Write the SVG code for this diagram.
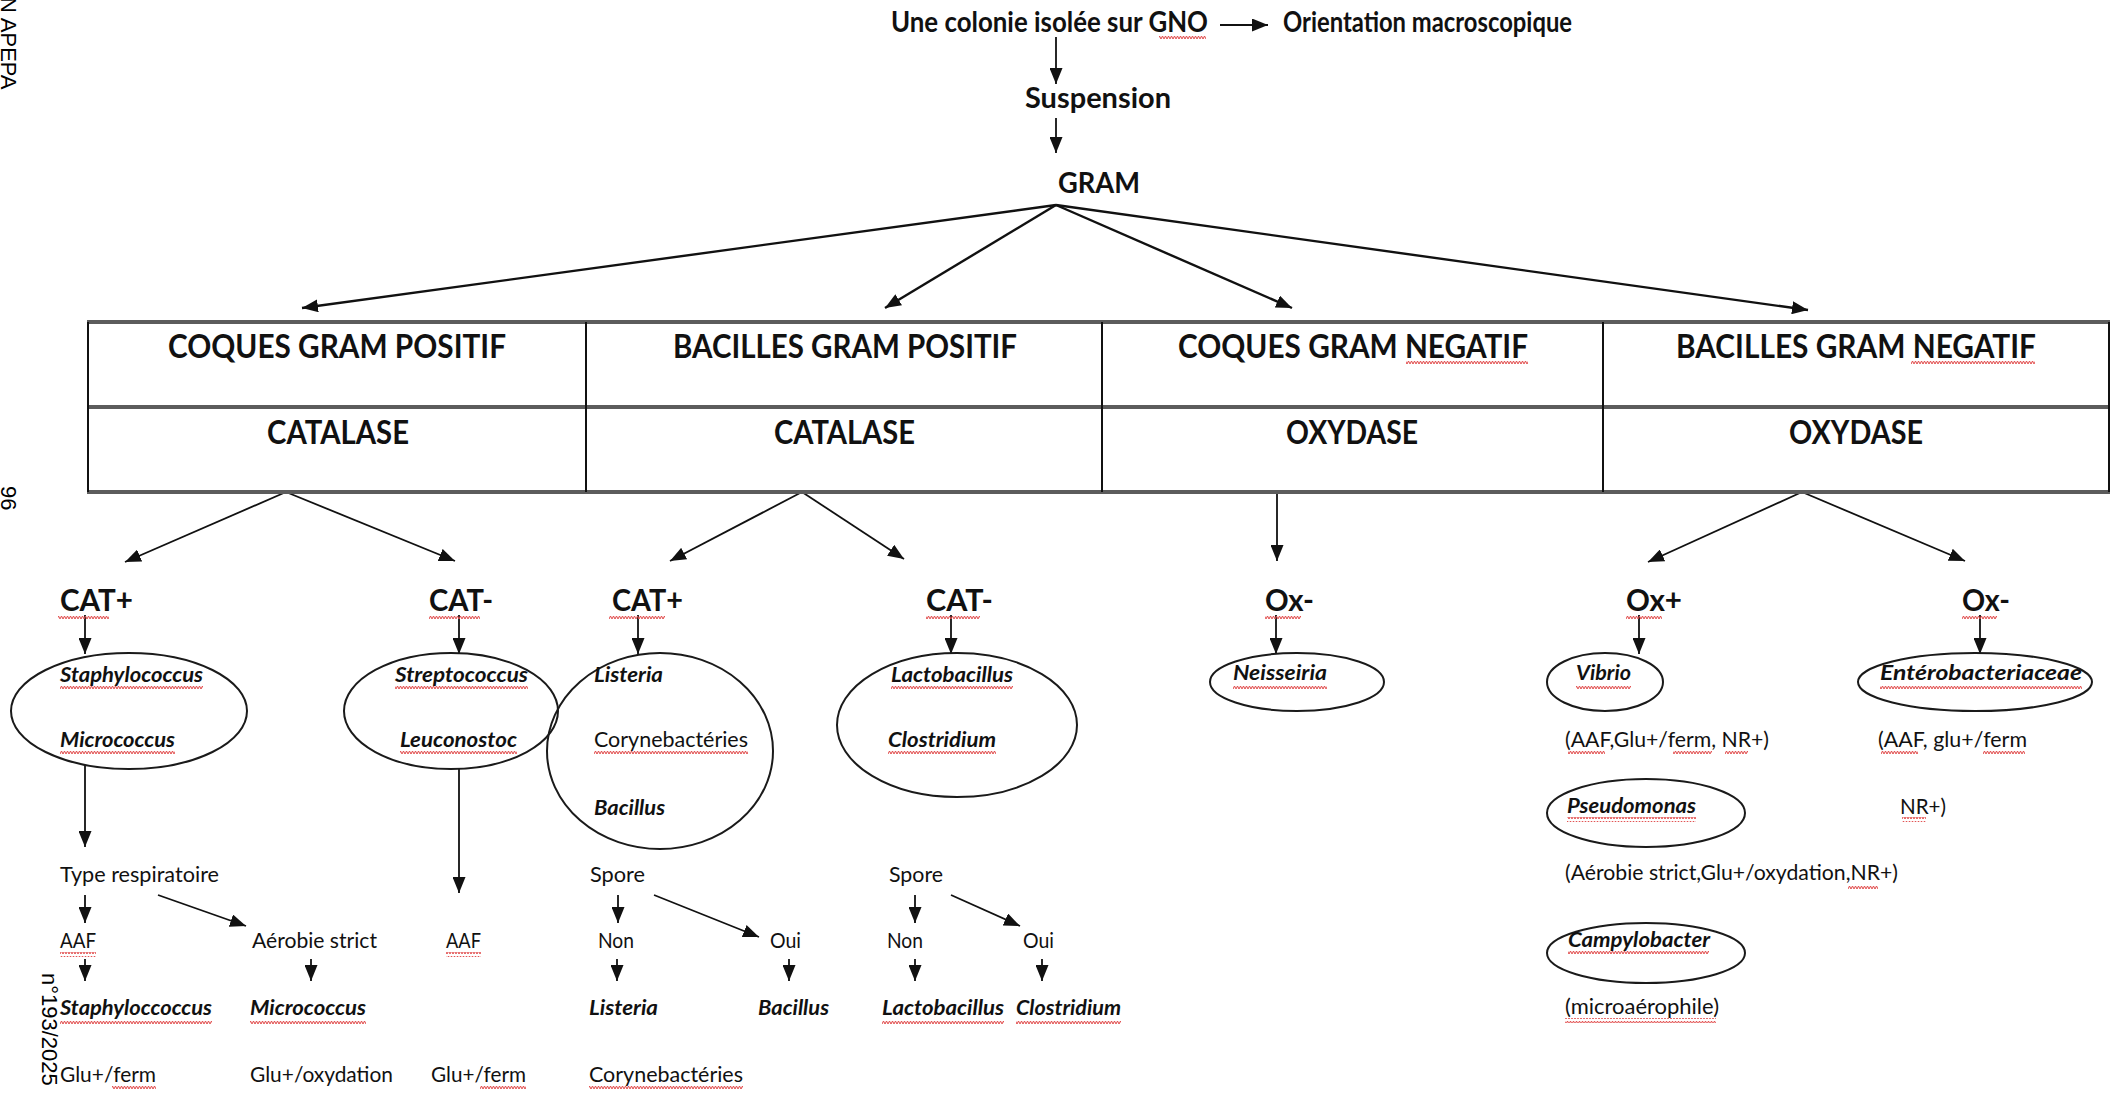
<svg xmlns="http://www.w3.org/2000/svg" width="2116" height="1093" viewBox="0 0 2116 1093">
<style>
  text{font-family:Lato,"Open Sans","Liberation Sans",sans-serif;fill:#111}
  .h1{font-size:28px;font-weight:700}
  .h2{font-size:33px;font-weight:700}
  .h3{font-size:30px;font-weight:700}
  .n{font-size:21px}
  .sp{font-size:21px;font-style:italic;font-weight:700}
  .mg{font-family:"Liberation Sans",Arial,sans-serif;font-size:22px;fill:#000}
  .c line{stroke:#111;stroke-width:1.8;fill:none}
  .c .g{stroke-width:2.4}
  .e{fill:none;stroke:#1a1a1a;stroke-width:2}
  .hl{stroke:#5c5c5c;stroke-width:4}
  .vl{stroke:#111;stroke-width:2}
  .w{fill:url(#wv)}
</style>
<defs>
  <marker id="ah" markerWidth="16" markerHeight="13" refX="16" refY="6.5" orient="auto" markerUnits="userSpaceOnUse">
    <path d="M0,0 L16,6.5 L0,13 z" fill="#111"/>
  </marker>
  <pattern id="wv" width="6" height="5" patternUnits="userSpaceOnUse">
    <path d="M0,4 L1.5,1 L3,4 L4.5,1 L6,4" fill="none" stroke="#e04848" stroke-width="1"/>
  </pattern>
</defs>
<rect width="2116" height="1093" fill="#fff"/>

<!-- page margin texts -->
<g id="margin">
  <text class="mg" transform="translate(1,-3) rotate(90)">N APEPA</text>
  <text class="mg" transform="translate(1,486) rotate(90)">96</text>
  <text class="mg" transform="translate(42,973) rotate(90)">n°193/2025</text>
</g>

<!-- connectors -->
<g id="connectors" class="c">
  <line x1="1056" y1="37" x2="1056" y2="84" marker-end="url(#ah)"/>
  <line x1="1220" y1="25" x2="1268" y2="25" marker-end="url(#ah)"/>
  <line x1="1056" y1="118" x2="1056" y2="153" marker-end="url(#ah)"/>
  <line class="g" x1="1056" y1="205" x2="302" y2="308" marker-end="url(#ah)"/>
  <line class="g" x1="1056" y1="205" x2="885" y2="308" marker-end="url(#ah)"/>
  <line class="g" x1="1056" y1="205" x2="1292" y2="308" marker-end="url(#ah)"/>
  <line class="g" x1="1056" y1="205" x2="1808" y2="310" marker-end="url(#ah)"/>
  <line x1="286" y1="492" x2="125" y2="562" marker-end="url(#ah)"/>
  <line x1="286" y1="492" x2="455" y2="561" marker-end="url(#ah)"/>
  <line x1="802" y1="492" x2="670" y2="561" marker-end="url(#ah)"/>
  <line x1="802" y1="492" x2="904" y2="559" marker-end="url(#ah)"/>
  <line x1="1277" y1="492" x2="1277" y2="561" marker-end="url(#ah)"/>
  <line x1="1802" y1="492" x2="1648" y2="562" marker-end="url(#ah)"/>
  <line x1="1802" y1="492" x2="1965" y2="561" marker-end="url(#ah)"/>
  <line x1="85" y1="615" x2="85" y2="654" marker-end="url(#ah)"/>
  <line x1="459" y1="615" x2="459" y2="654" marker-end="url(#ah)"/>
  <line x1="638" y1="615" x2="638" y2="654" marker-end="url(#ah)"/>
  <line x1="951" y1="615" x2="951" y2="654" marker-end="url(#ah)"/>
  <line x1="1276" y1="615" x2="1276" y2="654" marker-end="url(#ah)"/>
  <line x1="1639" y1="615" x2="1639" y2="654" marker-end="url(#ah)"/>
  <line x1="1980" y1="615" x2="1980" y2="654" marker-end="url(#ah)"/>
  <line x1="85" y1="765" x2="85" y2="847" marker-end="url(#ah)"/>
  <line x1="459" y1="769" x2="459" y2="893" marker-end="url(#ah)"/>
  <line x1="85" y1="895" x2="85" y2="923" marker-end="url(#ah)"/>
  <line x1="158" y1="895" x2="246" y2="926" marker-end="url(#ah)"/>
  <line x1="85" y1="959" x2="85" y2="981" marker-end="url(#ah)"/>
  <line x1="311" y1="959" x2="311" y2="981" marker-end="url(#ah)"/>
  <line x1="618" y1="895" x2="618" y2="923" marker-end="url(#ah)"/>
  <line x1="654" y1="895" x2="759" y2="937" marker-end="url(#ah)"/>
  <line x1="617" y1="959" x2="617" y2="981" marker-end="url(#ah)"/>
  <line x1="789" y1="959" x2="789" y2="981" marker-end="url(#ah)"/>
  <line x1="915" y1="895" x2="915" y2="923" marker-end="url(#ah)"/>
  <line x1="951" y1="895" x2="1020" y2="926" marker-end="url(#ah)"/>
  <line x1="915" y1="959" x2="915" y2="981" marker-end="url(#ah)"/>
  <line x1="1042" y1="959" x2="1042" y2="981" marker-end="url(#ah)"/>
</g>

<!-- top chain -->
<g id="n-colonie"><text class="h1" x="891" y="32" textLength="317" lengthAdjust="spacingAndGlyphs">Une colonie isolée sur GNO</text></g>
<g id="n-orientation"><text class="h1" x="1283" y="32" textLength="289" lengthAdjust="spacingAndGlyphs">Orientation macroscopique</text></g>
<g id="n-suspension"><text class="h1" x="1025" y="108" textLength="146" lengthAdjust="spacingAndGlyphs">Suspension</text></g>
<g id="n-gram"><text class="h1" x="1058" y="193" textLength="82" lengthAdjust="spacingAndGlyphs">GRAM</text></g>

<!-- table -->
<g id="table">
  <line class="hl" x1="87" y1="322" x2="2110" y2="322"/>
  <line class="hl" x1="87" y1="407" x2="2110" y2="407"/>
  <line class="hl" x1="87" y1="492" x2="2110" y2="492"/>
  <line class="vl" x1="88" y1="322" x2="88" y2="492"/>
  <line class="vl" x1="586" y1="322" x2="586" y2="492"/>
  <line class="vl" x1="1102" y1="322" x2="1102" y2="492"/>
  <line class="vl" x1="1603" y1="322" x2="1603" y2="492"/>
  <line class="vl" x1="2109" y1="322" x2="2109" y2="492"/>
  <g id="cell-cgp"><text class="h2" x="168" y="358" textLength="338" lengthAdjust="spacingAndGlyphs">COQUES GRAM POSITIF</text>
    <text class="h2" x="267" y="444" textLength="142" lengthAdjust="spacingAndGlyphs">CATALASE</text></g>
  <g id="cell-bgp"><text class="h2" x="673" y="358" textLength="344" lengthAdjust="spacingAndGlyphs">BACILLES GRAM POSITIF</text>
    <text class="h2" x="774" y="444" textLength="141" lengthAdjust="spacingAndGlyphs">CATALASE</text></g>
  <g id="cell-cgn"><text class="h2" x="1178" y="358" textLength="350" lengthAdjust="spacingAndGlyphs">COQUES GRAM NEGATIF</text>
    <text class="h2" x="1286" y="444" textLength="132" lengthAdjust="spacingAndGlyphs">OXYDASE</text></g>
  <g id="cell-bgn"><text class="h2" x="1676" y="358" textLength="360" lengthAdjust="spacingAndGlyphs">BACILLES GRAM NEGATIF</text>
    <text class="h2" x="1789" y="444" textLength="134" lengthAdjust="spacingAndGlyphs">OXYDASE</text></g>
</g>

<!-- test results -->
<g id="n-catp1"><text class="h3" x="60" y="611" textLength="73" lengthAdjust="spacingAndGlyphs">CAT+</text></g>
<g id="n-catm1"><text class="h3" x="429" y="611" textLength="64" lengthAdjust="spacingAndGlyphs">CAT-</text></g>
<g id="n-catp2"><text class="h3" x="612" y="611" textLength="71" lengthAdjust="spacingAndGlyphs">CAT+</text></g>
<g id="n-catm2"><text class="h3" x="926" y="611" textLength="67" lengthAdjust="spacingAndGlyphs">CAT-</text></g>
<g id="n-oxm3"><text class="h3" x="1265" y="611" textLength="49" lengthAdjust="spacingAndGlyphs">Ox-</text></g>
<g id="n-oxp4"><text class="h3" x="1626" y="611" textLength="56" lengthAdjust="spacingAndGlyphs">Ox+</text></g>
<g id="n-oxm4"><text class="h3" x="1962" y="611" textLength="48" lengthAdjust="spacingAndGlyphs">Ox-</text></g>

<!-- ellipses -->
<g id="n-e1"><ellipse class="e" cx="129" cy="711" rx="118" ry="58"/>
  <text class="sp" x="60" y="682" textLength="143" lengthAdjust="spacingAndGlyphs">Staphylococcus</text>
  <text class="sp" x="60" y="747" textLength="115" lengthAdjust="spacingAndGlyphs">Micrococcus</text></g>
<g id="n-e2"><ellipse class="e" cx="451" cy="711" rx="107" ry="58"/>
  <text class="sp" x="395" y="682" textLength="133" lengthAdjust="spacingAndGlyphs">Streptococcus</text>
  <text class="sp" x="400" y="747" textLength="117" lengthAdjust="spacingAndGlyphs">Leuconostoc</text></g>
<g id="n-e3"><ellipse class="e" cx="660" cy="751" rx="113" ry="98"/>
  <text class="sp" x="594" y="682" textLength="69" lengthAdjust="spacingAndGlyphs">Listeria</text>
  <text class="n" x="594" y="747" textLength="154" lengthAdjust="spacingAndGlyphs">Corynebactéries</text>
  <text class="sp" x="594" y="815" textLength="71" lengthAdjust="spacingAndGlyphs">Bacillus</text></g>
<g id="n-e4"><ellipse class="e" cx="957" cy="725" rx="120" ry="72"/>
  <text class="sp" x="891" y="682" textLength="122" lengthAdjust="spacingAndGlyphs">Lactobacillus</text>
  <text class="sp" x="888" y="747" textLength="108" lengthAdjust="spacingAndGlyphs">Clostridium</text></g>
<g id="n-neisseiria"><ellipse class="e" cx="1297" cy="682" rx="87" ry="29"/>
  <text class="sp" x="1233" y="680" textLength="94" lengthAdjust="spacingAndGlyphs">Neisseiria</text></g>
<g id="n-vibrio"><ellipse class="e" cx="1605" cy="682" rx="58" ry="29"/>
  <text class="sp" x="1576" y="680" textLength="55" lengthAdjust="spacingAndGlyphs">Vibrio</text></g>
<g id="n-entero"><ellipse class="e" cx="1975" cy="682" rx="117" ry="29"/>
  <text class="sp" x="1880" y="680" textLength="202" lengthAdjust="spacingAndGlyphs">Entérobacteriaceae</text></g>
<g id="n-vibrio-c"><text class="n" x="1565" y="747" textLength="204" lengthAdjust="spacingAndGlyphs">(AAF,Glu+/ferm, NR+)</text></g>
<g id="n-entero-c"><text class="n" x="1878" y="747" textLength="149" lengthAdjust="spacingAndGlyphs">(AAF, glu+/ferm</text>
  <text class="n" x="1900" y="814" textLength="46" lengthAdjust="spacingAndGlyphs">NR+)</text></g>
<g id="n-pseudo"><ellipse class="e" cx="1646" cy="813" rx="99" ry="34"/>
  <text class="sp" x="1567" y="813" textLength="129" lengthAdjust="spacingAndGlyphs">Pseudomonas</text></g>
<g id="n-pseudo-c"><text class="n" x="1565" y="880" textLength="333" lengthAdjust="spacingAndGlyphs">(Aérobie strict,Glu+/oxydation,NR+)</text></g>
<g id="n-campy"><ellipse class="e" cx="1646" cy="953" rx="99" ry="30"/>
  <text class="sp" x="1568" y="947" textLength="142" lengthAdjust="spacingAndGlyphs">Campylobacter</text></g>
<g id="n-campy-c"><text class="n" x="1565" y="1014" textLength="154" lengthAdjust="spacingAndGlyphs">(microaérophile)</text></g>

<!-- lower left -->
<g id="n-type"><text class="n" x="60" y="882" textLength="159" lengthAdjust="spacingAndGlyphs">Type respiratoire</text></g>
<g id="n-aaf1"><text class="n" x="60" y="948" textLength="36" lengthAdjust="spacingAndGlyphs">AAF</text></g>
<g id="n-aero"><text class="n" x="252" y="948" textLength="125" lengthAdjust="spacingAndGlyphs">Aérobie strict</text></g>
<g id="n-aaf2"><text class="n" x="446" y="948" textLength="35" lengthAdjust="spacingAndGlyphs">AAF</text></g>
<g id="n-staph2"><text class="sp" x="60" y="1015" textLength="152" lengthAdjust="spacingAndGlyphs">Staphyloccoccus</text></g>
<g id="n-micro2"><text class="sp" x="250" y="1015" textLength="116" lengthAdjust="spacingAndGlyphs">Micrococcus</text></g>
<g id="n-glu1"><text class="n" x="60" y="1082" textLength="96" lengthAdjust="spacingAndGlyphs">Glu+/ferm</text></g>
<g id="n-glu2"><text class="n" x="250" y="1082" textLength="143" lengthAdjust="spacingAndGlyphs">Glu+/oxydation</text></g>
<g id="n-glu3"><text class="n" x="431" y="1082" textLength="95" lengthAdjust="spacingAndGlyphs">Glu+/ferm</text></g>
<g id="n-spore1"><text class="n" x="590" y="882" textLength="55" lengthAdjust="spacingAndGlyphs">Spore</text></g>
<g id="n-non1"><text class="n" x="598" y="948" textLength="36" lengthAdjust="spacingAndGlyphs">Non</text></g>
<g id="n-oui1"><text class="n" x="770" y="948" textLength="31" lengthAdjust="spacingAndGlyphs">Oui</text></g>
<g id="n-listeria2"><text class="sp" x="589" y="1015" textLength="69" lengthAdjust="spacingAndGlyphs">Listeria</text></g>
<g id="n-bacillus2"><text class="sp" x="758" y="1015" textLength="71" lengthAdjust="spacingAndGlyphs">Bacillus</text></g>
<g id="n-coryne2"><text class="n" x="589" y="1082" textLength="154" lengthAdjust="spacingAndGlyphs">Corynebactéries</text></g>
<g id="n-spore2"><text class="n" x="889" y="882" textLength="54" lengthAdjust="spacingAndGlyphs">Spore</text></g>
<g id="n-non2"><text class="n" x="887" y="948" textLength="36" lengthAdjust="spacingAndGlyphs">Non</text></g>
<g id="n-oui2"><text class="n" x="1023" y="948" textLength="31" lengthAdjust="spacingAndGlyphs">Oui</text></g>
<g id="n-lacto2"><text class="sp" x="882" y="1015" textLength="122" lengthAdjust="spacingAndGlyphs">Lactobacillus</text></g>
<g id="n-clos2"><text class="sp" x="1016" y="1015" textLength="105" lengthAdjust="spacingAndGlyphs">Clostridium</text></g>

<!-- spell-check wavy underlines -->
<g id="wavy" class="w">
  <rect x="1159" y="34" width="47" height="5"/>
  <rect x="1406" y="361" width="122" height="5"/>
  <rect x="1911" y="361" width="124" height="5"/>
  <rect x="58" y="614" width="51" height="5"/>
  <rect x="429" y="614" width="51" height="5"/>
  <rect x="609" y="614" width="56" height="5"/>
  <rect x="926" y="614" width="54" height="5"/>
  <rect x="1265" y="614" width="36" height="5"/>
  <rect x="1626" y="614" width="36" height="5"/>
  <rect x="1962" y="614" width="35" height="5"/>
  <rect x="60" y="686" width="143" height="5"/>
  <rect x="60" y="750" width="115" height="5"/>
  <rect x="395" y="686" width="133" height="5"/>
  <rect x="400" y="750" width="117" height="5"/>
  <rect x="594" y="750" width="154" height="5"/>
  <rect x="891" y="686" width="122" height="5"/>
  <rect x="888" y="750" width="108" height="5"/>
  <rect x="1233" y="684" width="94" height="5"/>
  <rect x="1576" y="684" width="55" height="5"/>
  <rect x="1880" y="684" width="202" height="5"/>
  <rect x="1568" y="751" width="37" height="5"/>
  <rect x="1673" y="751" width="39" height="5"/>
  <rect x="1725" y="751" width="23" height="5"/>
  <rect x="1881" y="751" width="37" height="5"/>
  <rect x="1983" y="751" width="42" height="5"/>
  <rect x="1567" y="817" width="129" height="5"/>
  <rect x="1902" y="817" width="24" height="5"/>
  <rect x="1848" y="884" width="30" height="5"/>
  <rect x="1568" y="951" width="141" height="5"/>
  <rect x="1565" y="1018" width="151" height="5"/>
  <rect x="60" y="952" width="36" height="5"/>
  <rect x="446" y="952" width="35" height="5"/>
  <rect x="60" y="1019" width="152" height="5"/>
  <rect x="250" y="1019" width="116" height="5"/>
  <rect x="112" y="1086" width="44" height="5"/>
  <rect x="480" y="1086" width="46" height="5"/>
  <rect x="589" y="1086" width="154" height="5"/>
  <rect x="882" y="1019" width="122" height="5"/>
  <rect x="1016" y="1019" width="105" height="5"/>
</g>
</svg>
